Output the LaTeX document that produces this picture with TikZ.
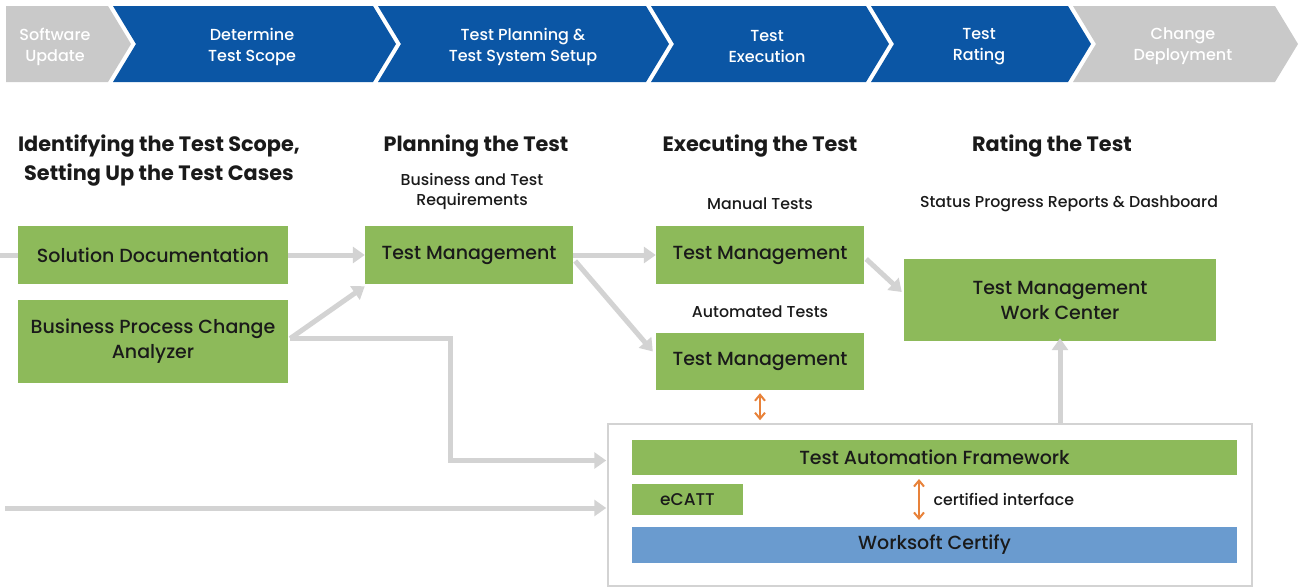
\documentclass[tikz,border=0pt]{standalone}
\usepackage{fontspec}
\setmainfont{Poppins}[BoldFont={Poppins Bold}]
\newfontfamily\medfont{Poppins Medium}
\usetikzlibrary{arrows.meta,calc}
\definecolor{banblue}{HTML}{0B56A5}
\definecolor{bangray}{HTML}{C9C9C9}
\definecolor{boxgreen}{HTML}{8DBA5A}
\definecolor{wsblue}{HTML}{6A9BCF}
\definecolor{argray}{HTML}{D3D3D3}
\definecolor{orng}{HTML}{E8823A}
\definecolor{txt}{HTML}{1A1A1A}
\newcommand{\chevronshape}[3]{\fill[#1] (#2,6) -- (#3,6) -- ({#3+23},44) -- (#3,82) -- (#2,82) -- ({#2+23},44) -- cycle;}
\tikzset{
  bantext/.style={align=center, text=white, font=\medfont\fontsize{16}{21}\selectfont},
  headtext/.style={align=center, text=txt, font=\bfseries\fontsize{20.8}{29}\selectfont},
  subtext/.style={align=center, text=txt, font=\medfont\fontsize{15.8}{20}\selectfont},
  gbox/.style={fill=boxgreen, align=center, text=txt, inner sep=0pt, font=\medfont\fontsize{19}{25}\selectfont},
  wbox/.style={fill=wsblue, align=center, text=txt, inner sep=0pt, font=\medfont\fontsize{19}{25}\selectfont},
  garrow/.style={draw=argray, line width=5pt, -{Triangle[length=12pt,width=16pt]}},
  gline/.style={draw=argray, line width=5pt},
  oarrow/.style={draw=orng, line width=2pt, {Straight Barb[length=6pt,width=10pt]}-{Straight Barb[length=6pt,width=10pt]}}
}
\begin{document}
\begin{tikzpicture}[x=1pt,y=-1pt]
\useasboundingbox (0,0) rectangle (1299,587);
% banner
\fill[bangray] (6,6) -- (108,6) -- (131,44) -- (108,82) -- (6,82) -- cycle;
\chevronshape{banblue}{113}{373}
\chevronshape{banblue}{378}{646}
\chevronshape{banblue}{651}{866}
\chevronshape{banblue}{871}{1068}
\chevronshape{bangray}{1073}{1275}
\node[bantext] (b1) at (55,46.5) {Software\\Update};
\node[bantext] (b2) at (252,46.5) {Determine\\Test Scope};
\node[bantext] (b3) at (523,46.5) {Test Planning \&\\Test System Setup};
\node[bantext] (b4) at (767,46.5) {Test\\Execution};
\node[bantext] (b5) at (979,46.5) {Test\\Rating};
\node[bantext] (b6) at (1183,46.5) {Change\\Deployment};
% headings
\node[headtext] (h1) at (159,160.5) {Identifying the Test Scope,\\Setting Up the Test Cases};
\node[headtext] (h2) at (476,146) {Planning the Test};
\node[headtext] (h3) at (760,146) {Executing the Test};
\node[headtext] (h4) at (1052,146) {Rating the Test};
\node[subtext] (s1) at (472,191) {Business and Test\\Requirements};
\node[subtext] (s2) at (760,204) {Manual Tests};
\node[subtext] (s3) at (760,312) {Automated Tests};
\node[subtext] (s4) at (1069,204) {Status Progress Reports \& Dashboard};
% outer box
\node[draw=argray, line width=1.5pt, fill=white, minimum width=644pt, minimum height=162pt, inner sep=0pt] (outer) at (930,505) {};
% boxes
\node[gbox, minimum width=270pt, minimum height=58pt] (sd) at (153,255) {Solution Documentation};
\node[gbox, minimum width=270pt, minimum height=83pt] (bpca) at (153,341.5) {Business Process Change\\Analyzer};
\node[gbox, minimum width=208pt, minimum height=58pt] (tm1) at (469,255) {Test Management};
\node[gbox, minimum width=208pt, minimum height=58pt] (tm2) at (760,255) {Test Management};
\node[gbox, minimum width=208pt, minimum height=57pt] (tm3) at (760,361.5) {Test Management};
\node[gbox, minimum width=312pt, minimum height=82pt] (wc) at (1060,300) {Test Management\\Work Center};
\node[gbox, minimum width=605pt, minimum height=35pt] (taf) at (934.5,457.5) {Test Automation Framework};
\node[gbox, minimum width=111pt, minimum height=31pt, font=\medfont\fontsize{17}{22}\selectfont] (ecatt) at (687.5,499.5) {eCATT};
\node[wbox, minimum width=605pt, minimum height=36pt] (wsc) at (934.5,545) {Worksoft Certify};
% connectors
\coordinate (l0) at (0,255);
\coordinate (l1) at (5,508);
\draw[gline] (l0) -- (sd.west);
\draw[garrow] (sd.east) -- (tm1.west);
\draw[garrow] ($(bpca.east)+(2,-3)$) -- ($(tm1.south west)+(0,2)$);
\draw[garrow] ($(bpca.east)+(2,-3)$) -- ++(160,0) |- ($(outer.west |- taf.center)+(-1,3)$);
\draw[garrow] (l1) -- ($(outer.west |- l1)+(-1,0)$);
\draw[garrow] (tm1.east) -- (tm2.west);
\draw[garrow] ($(tm1.east)+(2,6)$) -- ($(tm3.west)+(-3,-10)$);
\draw[garrow] ($(tm2.east)+(2,4)$) -- ($(wc.west)+(-2,-8)$);
\draw[garrow] (outer.north -| wc.south) -- ($(wc.south)+(0,-3)$);
\draw[oarrow] ($(tm3.south)+(0,3)$) -- ($(outer.north -| tm3.south)+(0,-3)$);
\coordinate (ci1) at (919,479);
\coordinate (ci2) at (919,520);
\draw[oarrow] (ci1) -- (ci2);
\node[subtext, anchor=west] (cil) at (930,499) {certified interface};
\end{tikzpicture}
\end{document}
